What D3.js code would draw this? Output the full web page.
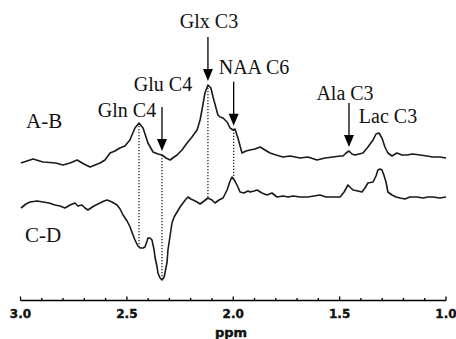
<!DOCTYPE html>
<html>
<head>
<meta charset="utf-8">
<script src="https://cdn.jsdelivr.net/npm/d3@7"></script>
<style>
  html, body { margin: 0; padding: 0; background: #fff; }
  svg { display: block; }
</style>
</head>
<body>
<svg id="chart" width="456" height="339"></svg>
<script>
// chemical shift (ppm) and intensity of the difference spectra
const ppmAB = [2.998, 2.941, 2.894, 2.835, 2.800, 2.767, 2.734, 2.702, 2.673, 2.626, 2.603, 2.579, 2.556, 2.533, 2.509, 2.486, 2.462, 2.443, 2.424, 2.410, 2.401, 2.377, 2.354, 2.335, 2.316, 2.297, 2.278, 2.264, 2.241, 2.217, 2.194, 2.170, 2.156, 2.147, 2.133, 2.119, 2.105, 2.095, 2.081, 2.072, 2.062, 2.048, 2.029, 2.015, 2.001, 1.992, 1.978, 1.959, 1.940, 1.921, 1.898, 1.874, 1.851, 1.827, 1.799, 1.766, 1.733, 1.686, 1.649, 1.606, 1.569, 1.531, 1.498, 1.484, 1.470, 1.456, 1.442, 1.428, 1.409, 1.390, 1.367, 1.343, 1.329, 1.315, 1.301, 1.287, 1.273, 1.254, 1.231, 1.207, 1.184, 1.156, 1.122, 1.090, 1.062, 1.029, 1.000];
const valAB = [-0.6, -0.2, -0.5, -0.6, -0.8, -0.6, -0.3, -0.7, -1.0, -0.6, -0.3, 0.4, 0.6, 0.9, 1.1, 1.7, 2.9, 3.4, 2.9, 2.0, 1.4, 0.5, 0.3, 0.2, -0.1, -0.3, 0.0, 0.2, 0.7, 1.4, 2.0, 2.7, 3.7, 4.7, 6.4, 7.2, 6.9, 6.0, 4.9, 4.2, 4.0, 3.9, 3.5, 2.9, 2.7, 2.8, 1.9, 0.4, 0.6, 0.7, 0.8, 1.0, 0.7, 0.4, 0.2, 0.0, 0.1, -0.1, 0.0, -0.3, -0.1, 0.0, 0.1, 0.1, 0.4, 0.6, 0.3, 0.2, 0.3, 0.4, 1.0, 1.7, 2.3, 2.4, 1.9, 1.0, 0.4, 0.1, 0.4, 0.2, 0.2, 0.3, 0.2, 0.1, 0.0, 0.0, -0.1];

const ppmCD = [2.998, 2.974, 2.955, 2.922, 2.894, 2.866, 2.838, 2.814, 2.791, 2.767, 2.744, 2.730, 2.711, 2.697, 2.683, 2.655, 2.626, 2.607, 2.593, 2.570, 2.546, 2.532, 2.518, 2.499, 2.485, 2.471, 2.462, 2.448, 2.438, 2.424, 2.415, 2.405, 2.401, 2.391, 2.382, 2.372, 2.368, 2.358, 2.354, 2.344, 2.335, 2.325, 2.321, 2.311, 2.307, 2.297, 2.288, 2.278, 2.264, 2.250, 2.236, 2.222, 2.213, 2.199, 2.189, 2.170, 2.156, 2.137, 2.119, 2.100, 2.086, 2.067, 2.048, 2.029, 2.015, 2.006, 1.992, 1.978, 1.968, 1.950, 1.931, 1.921, 1.902, 1.888, 1.865, 1.841, 1.818, 1.794, 1.766, 1.742, 1.719, 1.686, 1.649, 1.621, 1.592, 1.564, 1.531, 1.498, 1.479, 1.461, 1.447, 1.437, 1.414, 1.395, 1.381, 1.367, 1.343, 1.329, 1.320, 1.310, 1.301, 1.292, 1.282, 1.273, 1.254, 1.235, 1.216, 1.193, 1.170, 1.137, 1.108, 1.085, 1.062, 1.029, 1.000];
const valCD = [-1.1, -0.7, -0.5, -0.4, -0.5, -0.6, -0.8, -0.9, -1.1, -0.8, -0.6, -0.9, -0.8, -1.1, -1.3, -0.9, -0.6, -0.4, -0.3, -0.5, -0.8, -1.2, -1.8, -2.4, -3.0, -3.8, -4.3, -4.9, -5.1, -5.1, -5.0, -4.4, -4.1, -4.1, -4.3, -5.3, -6.0, -7.0, -7.6, -8.1, -8.3, -8.0, -7.6, -6.5, -5.3, -3.9, -2.6, -2.0, -1.5, -1.0, -0.6, -0.2, 0.0, -0.2, -0.3, -0.5, -0.7, -0.4, -0.1, -0.3, -0.6, -0.3, -0.1, 0.7, 1.6, 2.0, 1.6, 1.0, 0.5, 0.4, 0.6, 0.5, 0.6, 0.7, 0.4, 0.2, 0.4, 0.0, 0.1, 0.0, 0.1, 0.0, 0.0, 0.1, 0.2, 0.0, 0.0, 0.0, 0.5, 1.2, 0.9, 0.7, 0.6, 0.5, 0.9, 1.4, 1.5, 2.1, 2.7, 2.8, 2.7, 2.2, 1.5, 0.5, 0.2, 0.0, -0.1, -0.2, 0.0, 0.0, -0.1, 0.0, 0.0, -0.1, 0.0];

const traceNames = ['A-B', 'C-D'];
const traceOffsets = [4.0, 0.0];

// peak assignments
const peakLabels = ['Gln C4', 'Glu C4', 'Glx C3', 'NAA C6', 'Ala C3', 'Lac C3'];
const peakPpm = [2.443, 2.335, 2.119, 1.998, 1.456, 1.315];
const peakArrow = [false, true, true, true, true, false];
const peakDotted = [true, true, true, true, false, false];

const majorTicks = [3.0, 2.5, 2.0, 1.5, 1.0];
const minorTicks = [2.9, 2.8, 2.7, 2.6, 2.4, 2.3, 2.2, 2.1, 1.9, 1.8, 1.7, 1.6, 1.4, 1.3, 1.2, 1.1];

// layout (pixels)
const left = 20.5, right = 446, axisY = 300.5;
const serif = '"Liberation Serif"';
const labelPos = {
  'Gln C4': [127, 117],
  'Glu C4': [163, 91],
  'Glx C3': [209, 28],
  'NAA C6': [254, 74],
  'Ala C3': [345, 100],
  'Lac C3': [388, 123]
};
const namePos = { 'A-B': [26, 128], 'C-D': [25, 242] };

const svg = d3.select('#chart');

const x = d3.scaleLinear().domain([3.0, 1.0]).range([left, right]);
const y = d3.scaleLinear().domain([-10.35, 19.7]).range([axisY, 0]);

const traces = [
  { name: traceNames[0], ppm: ppmAB, val: valAB, off: traceOffsets[0] },
  { name: traceNames[1], ppm: ppmCD, val: valCD, off: traceOffsets[1] }
];

// linear interpolation of a trace at a given ppm
function valueAt(t, p) {
  for (let i = 0; i < t.ppm.length - 1; i++) {
    const a = t.ppm[i], b = t.ppm[i + 1];
    if (p <= a && p >= b) {
      const f = (a - p) / (a - b);
      return t.val[i] + f * (t.val[i + 1] - t.val[i]);
    }
  }
  return 0;
}

const line = d3.line()
  .x(d => x(d[0]))
  .y(d => y(d[1]));

// dotted guide lines between the two traces
peakLabels.forEach((lab, i) => {
  if (!peakDotted[i]) return;
  const p = peakPpm[i];
  svg.append('line')
    .attr('x1', x(p)).attr('x2', x(p))
    .attr('y1', y(valueAt(traces[0], p) + traces[0].off))
    .attr('y2', y(valueAt(traces[1], p) + traces[1].off))
    .attr('stroke', '#111')
    .attr('stroke-width', 1.2)
    .attr('stroke-dasharray', '1.3,1.7');
});

// spectra
traces.forEach(t => {
  svg.append('path')
    .datum(t.ppm.map((p, i) => [p, t.val[i] + t.off]))
    .attr('d', line)
    .attr('fill', 'none')
    .attr('stroke', '#1a1a1a')
    .attr('stroke-width', 1.6)
    .attr('stroke-linejoin', 'round');

  svg.append('text')
    .attr('x', namePos[t.name][0])
    .attr('y', namePos[t.name][1])
    .style('font-family', serif)
    .style('font-size', '21px')
    .attr('fill', '#111')
    .text(t.name);
});

peakLabels.forEach((lab, i) => {
  const p = peakPpm[i];
  if (peakArrow[i]) {
    const tip = y(valueAt(traces[0], p) + traces[0].off) - 4;
    svg.append('line')
      .attr('x1', x(p)).attr('x2', x(p))
      .attr('y1', tip - 44).attr('y2', tip - 11)
      .attr('stroke', '#000')
      .attr('stroke-width', 1.3);
    svg.append('path')
      .attr('d', `M${x(p) - 5},${tip - 12} L${x(p) + 5},${tip - 12} L${x(p)},${tip} Z`)
      .attr('fill', '#000');
  }
  svg.append('text')
    .attr('x', labelPos[lab][0])
    .attr('y', labelPos[lab][1])
    .attr('text-anchor', 'middle')
    .style('font-family', serif)
    .style('font-size', '20px')
    .attr('fill', '#111')
    .text(lab);
});

// x axis with ticks pointing up
const axis = svg.append('g');
axis.append('line')
  .attr('x1', left).attr('x2', right)
  .attr('y1', axisY).attr('y2', axisY)
  .attr('stroke', '#000').attr('stroke-width', 1.3);

axis.selectAll('.major')
  .data(majorTicks)
  .enter().append('line')
  .attr('x1', d => x(d)).attr('x2', d => x(d))
  .attr('y1', axisY).attr('y2', axisY - 4)
  .attr('stroke', '#000').attr('stroke-width', 1.3);

axis.selectAll('.minor')
  .data(minorTicks)
  .enter().append('line')
  .attr('x1', d => x(d)).attr('x2', d => x(d))
  .attr('y1', axisY).attr('y2', axisY - 2.5)
  .attr('stroke', '#000').attr('stroke-width', 1.3);

axis.selectAll('.lbl')
  .data(majorTicks)
  .enter().append('text')
  .attr('x', d => x(d))
  .attr('y', 317.5)
  .attr('text-anchor', 'middle')
  .style('font-family', '"DejaVu Sans"')
  .style('font-weight', 'bold')
  .style('font-size', '12px')
  .attr('fill', '#111')
  .attr('stroke', '#111')
  .attr('stroke-width', 0.4)
  .text(d => d.toFixed(1));

svg.append('text')
  .attr('x', 231)
  .attr('y', 337)
  .attr('text-anchor', 'middle')
  .style('font-family', '"DejaVu Sans"')
  .style('font-weight', 'bold')
  .style('font-size', '13px')
  .attr('fill', '#111')
  .attr('stroke', '#111')
  .attr('stroke-width', 0.4)
  .text('ppm');
</script>
</body>
</html>
